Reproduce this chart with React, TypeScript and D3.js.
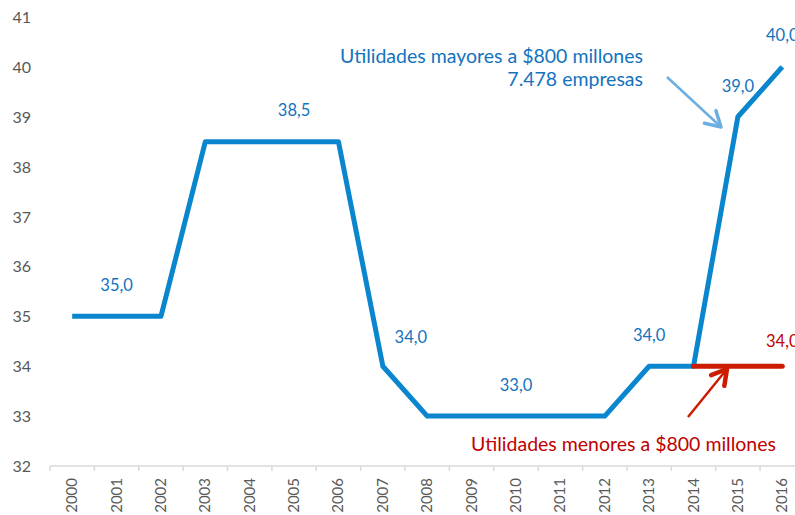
import React from "react";
import * as d3 from "d3";

const years = ["2000","2001","2002","2003","2004","2005","2006","2007","2008","2009","2010","2011","2012","2013","2014","2015","2016"];
const mayores = [35, 35, 35, 38.5, 38.5, 38.5, 38.5, 34, 33, 33, 33, 33, 33, 34, 34, 39, 40];
const menoresYears = ["2014", "2015", "2016"];
const menores = [34, 34, 34];
const yTicks = [32, 33, 34, 35, 36, 37, 38, 39, 40, 41];
// labelled points: [year, value, dx, baseline dy]
const blueLabels: [string, number, number, number][] = [
  ["2001", 35, 0, -25],
  ["2005", 38.5, 0, -26],
  ["2007", 34, 28, -23],
  ["2010", 33, 0, -25],
  ["2013", 34, 0, -25],
  ["2015", 39, 0, -25],
  ["2016", 40, 0, -26],
];
const redLabels: [string, number, number, number][] = [["2016", 34, 0, -19]];

const W = 795, H = 515;
const BLUE = "#0A86CF";
const BLUE_TXT = "#1273BE";
const RED = "#CC1B00";
const RED_TXT = "#C00000";

function arrow(x1: number, y1: number, x2: number, y2: number, len: number) {
  const a = Math.atan2(y2 - y1, x2 - x1);
  const s = Math.PI / 6;
  const p1 = [x2 - len * Math.cos(a - s), y2 - len * Math.sin(a - s)];
  const p2 = [x2 - len * Math.cos(a + s), y2 - len * Math.sin(a + s)];
  return {
    shaft: `M${x1},${y1}L${x2},${y2}`,
    head: `M${p1[0]},${p1[1]}L${x2},${y2}L${p2[0]},${p2[1]}`,
  };
}

export default function App() {
  const x = d3.scaleBand<string>().domain(years).range([50, 50 + 17 * 44.38]).padding(0);
  const y = d3.scaleLinear().domain([32, 41]).range([466, 17]);
  const cx = (yr: string) => (x(yr) as number) + x.bandwidth() / 2;

  const line = d3.line<number>().x((_, i) => cx(years[i])).y((d) => y(d));
  const redLine = d3.line<number>().x((_, i) => cx(menoresYears[i])).y((d) => y(d));

  const tickPos = years.map((yr) => x(yr) as number).concat([(x(years[16]) as number) + x.bandwidth()]);

  const aBlue = arrow(667, 77, 721, 127, 17);
  const aRed = arrow(688, 417, 727, 369, 17);

  const numFont = "Lato, 'DejaVu Sans', sans-serif";
  const annFont = "Lato, 'Open Sans', sans-serif";
  const fmt = (v: number) => d3.format(".1f")(v).replace(".", ",");

  return (
    <svg width={W} height={H} style={{ position: "absolute", left: 0, top: 0, background: "#fff" }}>
      {/* x axis */}
      <line x1={50} x2={W} y1={466} y2={466} stroke="#D9D9D9" strokeWidth={1.5} />
      {tickPos.map((t, i) => (
        <line key={i} x1={t} x2={t} y1={466} y2={471} stroke="#D9D9D9" strokeWidth={1.5} />
      ))}
      {years.map((yr) => (
        <text
          key={yr}
          transform={`translate(${cx(yr) + 5},478) rotate(-90)`}
          textAnchor="end"
          fontFamily={numFont}
          fontSize={15}
          fill="#595959"
        >
          {yr}
        </text>
      ))}
      {/* y axis labels */}
      {yTicks.map((t) => (
        <text key={t} x={31} y={y(t) + 6} textAnchor="end" fontFamily={numFont} fontSize={16} fill="#595959">
          {t}
        </text>
      ))}
      {/* series */}
      <path d={line(mayores) || ""} fill="none" stroke={BLUE} strokeWidth={5} strokeLinejoin="round" />
      <path d={redLine(menores) || ""} fill="none" stroke={RED} strokeWidth={5} strokeLinecap="round" />
      {/* data labels */}
      {blueLabels.map(([yr, v, dx, dy]) => (
        <text key={yr} x={cx(yr) + dx} y={y(v) + dy} textAnchor="middle" fontFamily={numFont} fontSize={16.5} fill={BLUE_TXT}>
          {fmt(v)}
        </text>
      ))}
      {redLabels.map(([yr, v, dx, dy]) => (
        <text key={yr} x={cx(yr) + dx} y={y(v) + dy} textAnchor="middle" fontFamily={numFont} fontSize={16.5} fill={RED_TXT}>
          {fmt(v)}
        </text>
      ))}
      {/* annotations */}
      <text x={643} y={63} textAnchor="end" fontFamily={annFont} fontSize={19.5} fill={BLUE_TXT}>
        Utilidades mayores a $800 millones
      </text>
      <text x={643} y={86} textAnchor="end" fontFamily={annFont} fontSize={19.5} fill={BLUE_TXT}>
        7.478 empresas
      </text>
      <path d={aBlue.shaft} stroke="#6DAEE0" strokeWidth={2.5} fill="none" />
      <path d={aBlue.head} stroke="#6DAEE0" strokeWidth={3.5} fill="none" strokeLinecap="round" strokeLinejoin="round" />
      <text x={776} y={451} textAnchor="end" fontFamily={annFont} fontSize={19.5} fill={RED_TXT}>
        Utilidades menores a $800 millones
      </text>
      <path d={aRed.shaft} stroke={RED} strokeWidth={2.5} fill="none" />
      <path d={aRed.head} stroke={RED} strokeWidth={4.5} fill="none" strokeLinecap="round" strokeLinejoin="round" />
    </svg>
  );
}
